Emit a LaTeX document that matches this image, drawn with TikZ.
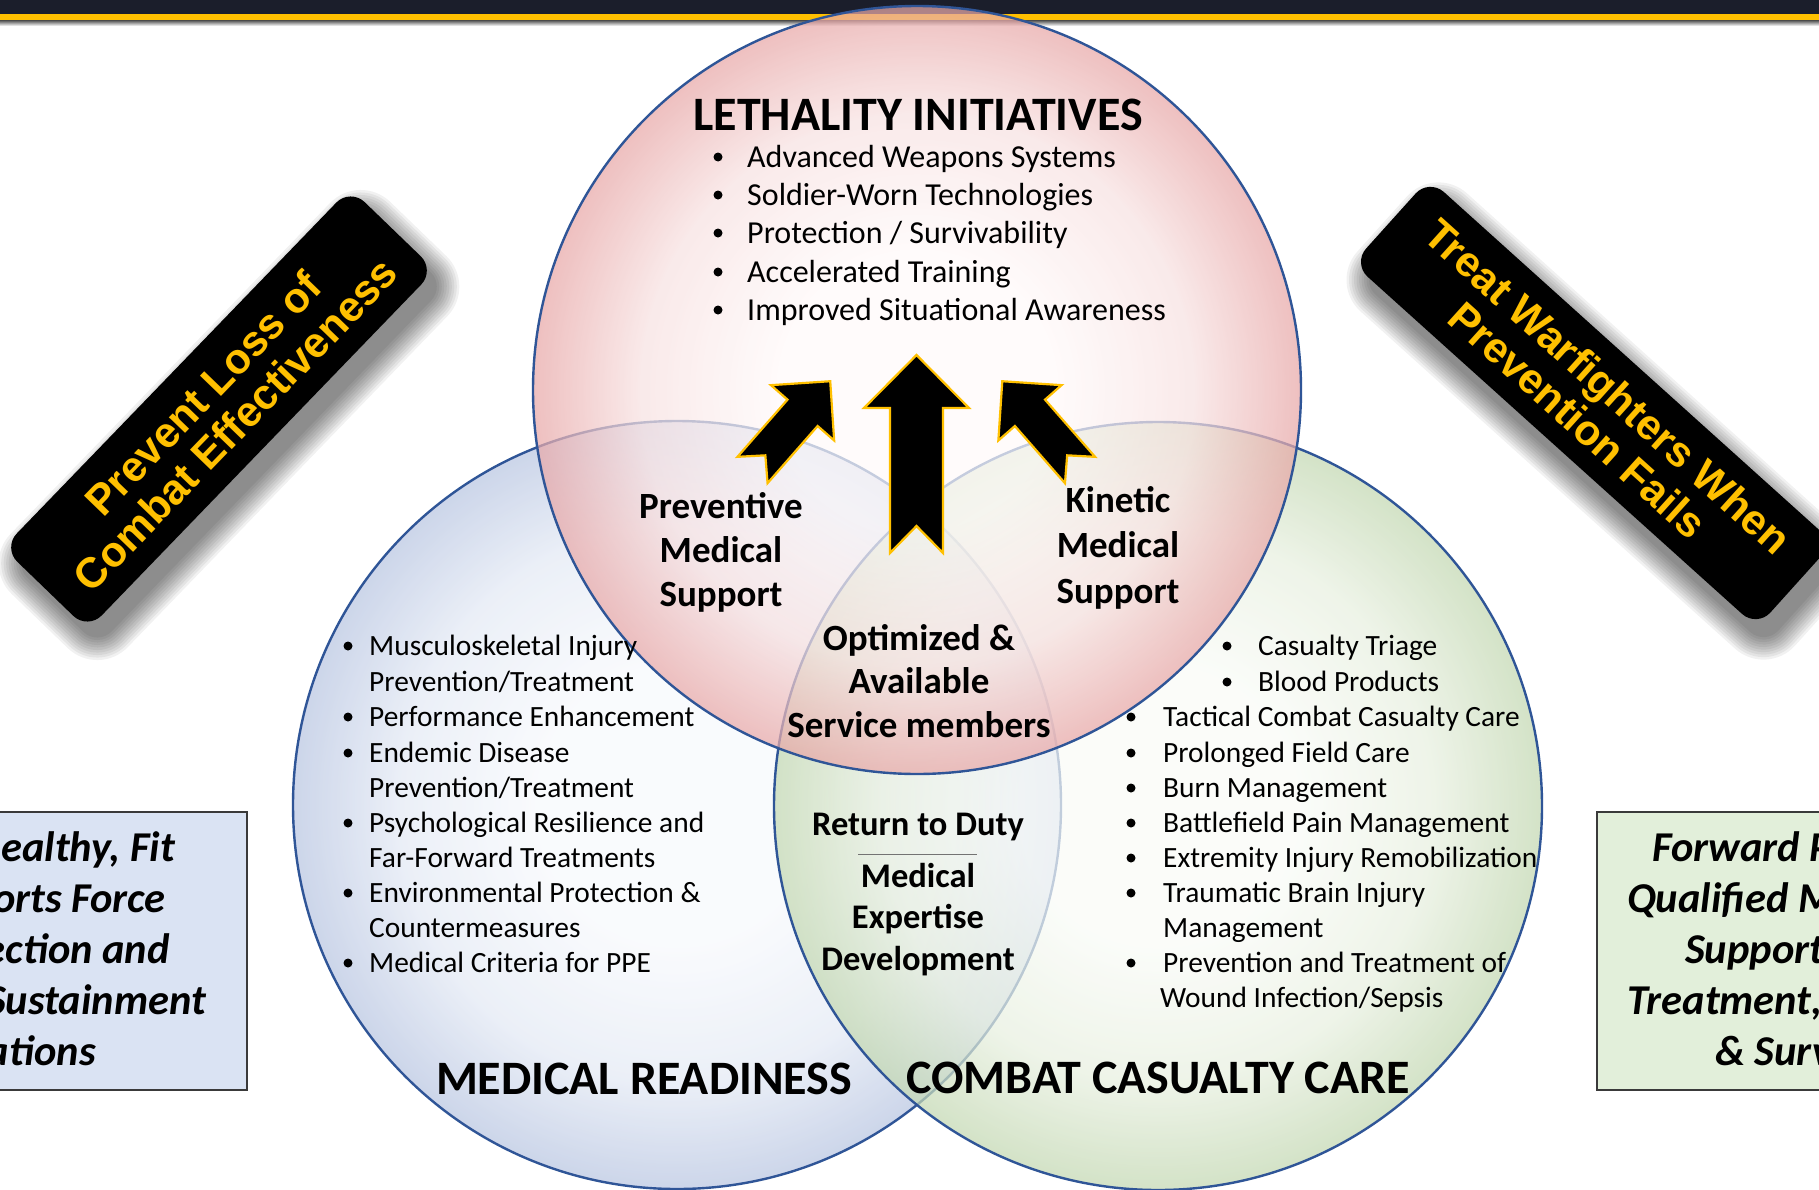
\documentclass[tikz,border=0pt]{standalone}
\usepackage{fontspec}
\setmainfont{Carlito}
\newfontfamily\bannerfont{Liberation Sans}

\definecolor{gold}{HTML}{FFC000}
\definecolor{ringblue}{HTML}{2F5597}
\definecolor{navy}{HTML}{1B1E2B}
\definecolor{boxblue}{HTML}{DAE3F3}
\definecolor{boxgreen}{HTML}{E2EFDA}
\definecolor{boxline}{HTML}{3A3A3A}
\definecolor{redcore}{HTML}{FFFAFA}
\definecolor{redmid}{HTML}{F8E2E2}
\definecolor{rededge}{HTML}{E8A8A8}
\definecolor{bluecore}{HTML}{F8FAFD}
\definecolor{bluemid}{HTML}{E4EAF5}
\definecolor{blueedge}{HTML}{B9C6E2}
\definecolor{greencore}{HTML}{FAFCF8}
\definecolor{greenmid}{HTML}{E8F0E0}
\definecolor{greenedge}{HTML}{C3D8B2}

\pgfdeclareradialshading{redfill}{\pgfpointorigin}{color(0bp)=(redcore); color(9bp)=(redcore); color(18bp)=(redmid); color(25bp)=(rededge); color(50bp)=(rededge)}
\pgfdeclareradialshading{bluefill}{\pgfpointorigin}{color(0bp)=(bluecore); color(9bp)=(bluecore); color(18bp)=(bluemid); color(25bp)=(blueedge); color(50bp)=(blueedge)}
\pgfdeclareradialshading{greenfill}{\pgfpointorigin}{color(0bp)=(greencore); color(9bp)=(greencore); color(18bp)=(greenmid); color(25bp)=(greenedge); color(50bp)=(greenedge)}

\begin{document}
\begin{tikzpicture}[x=1pt,y=-1pt,
  ring/.style={draw=ringblue, line width=2.4, fill opacity=0.72},
  blockarrow/.style={fill=black, draw=gold, line width=2.2, line join=miter},
  banner/.style={fill=black, rounded corners=20, inner sep=0pt, align=center,
    text=gold, font=\bannerfont\bfseries\fontsize{42.5}{45}\selectfont},
  sidebox/.style={draw=boxline, line width=1.6},
  boxtxt/.style={inner sep=0pt, font=\bfseries\itshape\fontsize{42.5}{48}\selectfont},
  topitem/.style={anchor=base west, inner sep=0pt, font=\fontsize{32}{37}\selectfont},
  item/.style={anchor=base west, inner sep=0pt, font=\fontsize{29.4}{35}\selectfont},
  dot/.style={circle, fill=black, inner sep=0pt, minimum size=9},
  lbl/.style={anchor=base, inner sep=0pt, font=\bfseries\fontsize{37}{42}\selectfont},
  sublbl/.style={anchor=base, inner sep=0pt, font=\bfseries\fontsize{34.5}{40}\selectfont},
  title/.style={anchor=base, inner sep=0pt, font=\bfseries\fontsize{48}{52}\selectfont}
]
\useasboundingbox (0,0) rectangle (1819,1189);
\fill[white] (0,0) rectangle (1819,1189);

% header band
\fill[navy] (0,0) rectangle (1819,13.5);
\fill[gold] (0,13.5) rectangle (1819,20.5);
\shade[top color=black!65, bottom color=white] (0,20.5) rectangle (1819,26);

% soft shadows of the two banners
\begin{scope}[shift={(229,425)}, rotate=46]
  \foreach \s in {0,2.5,...,22.5}
    \fill[black, opacity=0.055, rounded corners=20+\s] (-250-\s,-59-\s) rectangle (250+\s,59+\s);
\end{scope}
\begin{scope}[shift={(1601,421)}, rotate=-42]
  \foreach \s in {0,2.5,...,22.5}
    \fill[black, opacity=0.055, rounded corners=20+\s] (-272-\s,-57-\s) rectangle (272+\s,57+\s);
\end{scope}

% banners
\node[banner, rotate=46, minimum width=500, minimum height=118] (bannerL) at (219,409)
  {Prevent Loss of\\Combat Effectiveness};
\node[banner, rotate=-42, minimum width=544, minimum height=114] (bannerR) at (1593,403)
  {Treat Warfighters When\\Prevention Fails};

% side boxes
\fill[boxblue, sidebox] (-10,812) rectangle (247,1090);
\fill[boxgreen, sidebox] (1597,812) rectangle (1830,1090);

\node[boxtxt, anchor=base east] (lb1) at (175,861) {ealthy, Fit};
\node[boxtxt, anchor=base east] (lb2) at (166,912) {orts Force};
\node[boxtxt, anchor=base east] (lb3) at (170,963) {ection and};
\node[boxtxt, anchor=base east] (lb4) at (206,1014) {Sustainment};
\node[boxtxt, anchor=base east] (lb5) at (96,1065) {ations};

\node[boxtxt, anchor=base west] (rb1) at (1652,861) {Forward P};
\node[boxtxt, anchor=base west] (rb2) at (1627,912) {Qualified M};
\node[boxtxt, anchor=base west] (rb3) at (1685,963) {Support};
\node[boxtxt, anchor=base west] (rb4) at (1627,1014) {Treatment,};
\node[boxtxt, anchor=base west] (rb5) at (1715,1065) {\& Surv};

% the three circles
\shadedraw[ring, shading=bluefill] (677,805) circle (384);
\shadedraw[ring, shading=greenfill] (1158,806) circle (384);
\shadedraw[ring, shading=redfill] (917,390) circle (384);

% block arrows
\draw[blockarrow] (890,553) -- (916.5,526) -- (943,553) -- (943,408) -- (969,408)
  -- (916.5,355) -- (864,408) -- (890,408) -- cycle;
\begin{scope}[shift={(752.5,470)}, rotate=-41.2]
  \draw[blockarrow] (-20,0) -- (0,-19.5) -- (20,0) -- (20,-76) -- (42,-76)
    -- (0,-118) -- (-42,-76) -- (-20,-76) -- cycle;
\end{scope}
\begin{scope}[shift={(1080,470)}, rotate=41.2]
  \draw[blockarrow] (-20,0) -- (0,-19.5) -- (20,0) -- (20,-76) -- (42,-76)
    -- (0,-118) -- (-42,-76) -- (-20,-76) -- cycle;
\end{scope}

% Lethality initiatives
\node[title] (leth) at (918,130) {LETHALITY INITIATIVES};
\node[dot] (ld1) at (718,157) {}; \node[topitem] (lt1) at (747,167) {Advanced Weapons Systems};
\node[dot] (ld2) at (718,195) {}; \node[topitem] (lt2) at (747,205) {Soldier-Worn Technologies};
\node[dot] (ld3) at (718,233) {}; \node[topitem] (lt3) at (747,243) {Protection / Survivability};
\node[dot] (ld4) at (718,272) {}; \node[topitem] (lt4) at (747,282) {Accelerated Training};
\node[dot] (ld5) at (718,310) {}; \node[topitem] (lt5) at (747,320) {Improved Situational Awareness};

% Medical readiness
\node[dot] (md1) at (348,646) {}; \node[item] (mt1) at (369,655) {Musculoskeletal Injury};
\node[item] (mt1b) at (369,691) {Prevention/Treatment};
\node[dot] (md2) at (348,717) {}; \node[item] (mt2) at (369,726) {Performance Enhancement};
\node[dot] (md3) at (348,753) {}; \node[item] (mt3) at (369,762) {Endemic Disease};
\node[item] (mt3b) at (369,797) {Prevention/Treatment};
\node[dot] (md4) at (348,823) {}; \node[item] (mt4) at (369,832) {Psychological Resilience and};
\node[item] (mt4b) at (369,867) {Far-Forward Treatments};
\node[dot] (md5) at (348,893) {}; \node[item] (mt5) at (369,902) {Environmental Protection \&};
\node[item] (mt5b) at (369,937) {Countermeasures};
\node[dot] (md6) at (348,963) {}; \node[item] (mt6) at (369,972) {Medical Criteria for PPE};
\node[title] (medr) at (644,1094) {MEDICAL READINESS};

% Combat casualty care
\node[dot] (cd1) at (1227,646) {}; \node[item] (ct1) at (1258,655) {Casualty Triage};
\node[dot] (cd2) at (1227,682) {}; \node[item] (ct2) at (1258,691) {Blood Products};
\node[dot] (cd3) at (1131,717) {}; \node[item] (ct3) at (1163,726) {Tactical Combat Casualty Care};
\node[dot] (cd4) at (1131,753) {}; \node[item] (ct4) at (1163,762) {Prolonged Field Care};
\node[dot] (cd5) at (1131,788) {}; \node[item] (ct5) at (1163,797) {Burn Management};
\node[dot] (cd6) at (1131,823) {}; \node[item] (ct6) at (1163,832) {Battlefield Pain Management};
\node[dot] (cd7) at (1131,858) {}; \node[item] (ct7) at (1163,867) {Extremity Injury Remobilization};
\node[dot] (cd8) at (1131,893) {}; \node[item] (ct8) at (1163,902) {Traumatic Brain Injury};
\node[item] (ct8b) at (1163,937) {Management};
\node[dot] (cd9) at (1131,963) {}; \node[item] (ct9) at (1163,972) {Prevention and Treatment of};
\node[item] (ct9b) at (1160,1007) {Wound Infection/Sepsis};
\node[title] (ccc) at (1158,1093) {COMBAT CASUALTY CARE};

% overlap labels
\node[lbl] (pv1) at (721,518) {Preventive};
\node[lbl] (pv2) at (721,562) {Medical};
\node[lbl] (pv3) at (721,606) {Support};
\node[lbl] (kn1) at (1118,512) {Kinetic};
\node[lbl] (kn2) at (1118,557) {Medical};
\node[lbl] (kn3) at (1118,603) {Support};
\node[lbl] (op1) at (919,650) {Optimized \&};
\node[lbl] (op2) at (919,693) {Available};
\node[lbl] (op3) at (919,737) {Service members};
\node[sublbl] (rd1) at (918,835) {Return to Duty};
\draw[black!55, line width=0.9] (858,854) -- (977,854);
\node[sublbl] (rd2) at (918,887) {Medical};
\node[sublbl] (rd3) at (918,928) {Expertise};
\node[sublbl] (rd4) at (918,970) {Development};
\end{tikzpicture}
\end{document}
